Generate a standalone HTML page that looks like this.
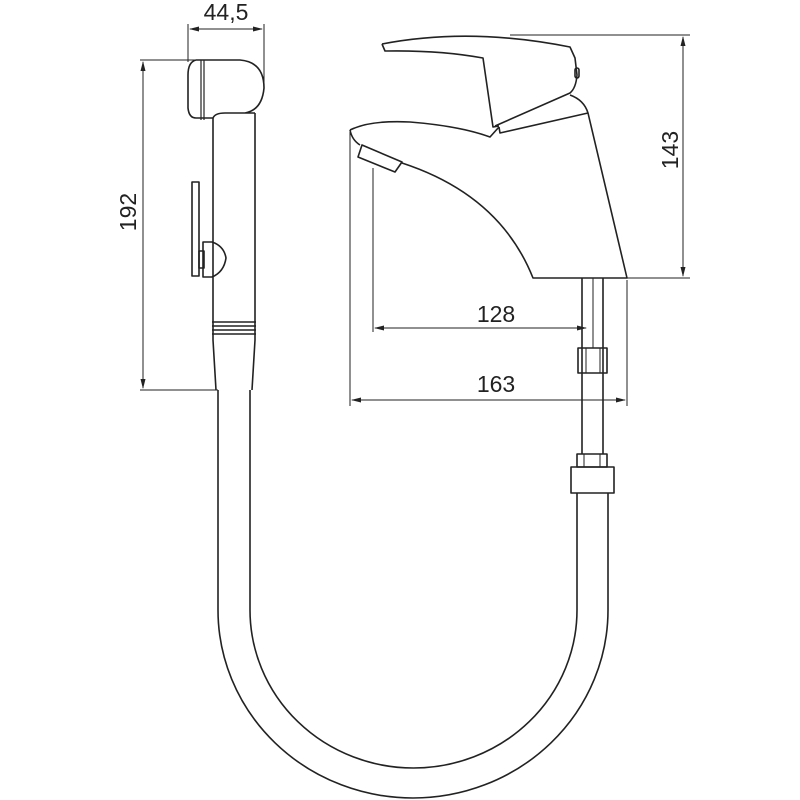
<!DOCTYPE html>
<html><head><meta charset="utf-8"><style>html,body{margin:0;padding:0;background:#fff}svg{display:block}</style></head>
<body>
<svg width="800" height="800" viewBox="0 0 800 800" xmlns="http://www.w3.org/2000/svg">
<defs><marker id="a" markerWidth="10" markerHeight="6" refX="9" refY="3" orient="auto-start-reverse" markerUnits="userSpaceOnUse"><path d="M0,0.5 L10,3 L0,5.5z" fill="#222"/></marker></defs>
<g fill="none" stroke="#222" stroke-width="1.6" stroke-linejoin="round">
<!-- handshower dims -->
<g stroke-width="1">
<line x1="188" y1="24" x2="188" y2="62"/><line x1="264" y1="24" x2="264" y2="84"/>
<line x1="190" y1="29" x2="262" y2="29" marker-start="url(#a)" marker-end="url(#a)"/>
<line x1="140" y1="60" x2="205" y2="60"/><line x1="140" y1="390" x2="218" y2="390"/>
<line x1="143" y1="62" x2="143" y2="388" marker-start="url(#a)" marker-end="url(#a)"/>
</g>
<!-- head -->
<path d="M196,60 L240,60 Q264,62 264,88 Q262,110 245,113 L255,113 M196,60 Q188,62 188,75 L188,108 Q189,118 196,118 L213,118 Q215,113 225,113 L245,113"/>
<line x1="201" y1="60" x2="201" y2="120" stroke-width="1.2"/><line x1="204" y1="60" x2="204" y2="120" stroke-width="1.2"/>
<!-- handle -->
<path d="M213,118 L213,340 L216,390 M255,113 L255,340 L252,390"/>
<line x1="212" y1="322" x2="256" y2="322"/><line x1="212" y1="326" x2="256" y2="326"/>
<line x1="212" y1="330" x2="256" y2="330"/><line x1="212" y1="334" x2="256" y2="334"/>
<!-- trigger -->
<rect x="192" y="182" width="7" height="94"/>
<path d="M203,242 L212,242 Q224,246 226,258 Q224,272 212,277 L203,277 Z"/>
<rect x="199" y="251" width="5" height="17"/>
<!-- hose -->
<path d="M218,390 L218,610 A195,188 0 0 0 608,610 L608,493"/>
<path d="M250,390 L250,610 A163.5,158 0 0 0 577,610 L577,493"/>
<!-- faucet lever -->
<path d="M382,44 Q470,27 570,47 L575,58 L577,75 Q576,88 570,93 L495,126"/>
<path d="M382,44 L385,51 Q440,50 483,58 L493,127 L499,126"/>
<rect x="575" y="68" width="4" height="10" rx="2"/>
<!-- body -->
<path d="M570,95 Q584,100 588,113 L627,278 L533,278 Q500,195 402,163"/>
<path d="M499,127 L500,133 L588,113"/>
<path d="M350,130 Q370,120 410,122 Q460,126 490,137 L499,127"/>
<path d="M350,130 Q352,140 360,145"/>
<path d="M362,145 L358,157 L395,172 L402,162 Z"/>
<!-- pipe -->
<line x1="582" y1="278" x2="582" y2="454"/><line x1="603" y1="278" x2="603" y2="454"/>
<line x1="593" y1="278" x2="593" y2="348" stroke-width="1"/>
<rect x="578" y="348" width="29" height="25"/>
<line x1="586" y1="348" x2="586" y2="373" stroke-width="1"/><line x1="600" y1="348" x2="600" y2="373" stroke-width="1"/>
<rect x="577" y="454" width="30" height="13"/>
<line x1="584" y1="454" x2="584" y2="467" stroke-width="1"/><line x1="600" y1="454" x2="600" y2="467" stroke-width="1"/>
<rect x="571" y="467" width="43" height="26"/>
<!-- faucet dims -->
<g stroke-width="1">
<line x1="510" y1="35" x2="690" y2="35"/><line x1="627" y1="278" x2="690" y2="278"/>
<line x1="683" y1="37" x2="683" y2="276" marker-start="url(#a)" marker-end="url(#a)"/>
<line x1="350" y1="132" x2="350" y2="406"/><line x1="373" y1="168" x2="373" y2="332"/>
<line x1="627" y1="280" x2="627" y2="406"/>
<line x1="375" y1="328" x2="586" y2="328" marker-start="url(#a)" marker-end="url(#a)"/>
<line x1="352" y1="400" x2="625" y2="400" marker-start="url(#a)" marker-end="url(#a)"/>
</g>
</g>
<g font-family="Liberation Sans, sans-serif" font-size="23" fill="#222">
<text x="226" y="20" text-anchor="middle">44,5</text>
<text x="0" y="0" text-anchor="middle" transform="translate(136,212) rotate(-90)">192</text>
<text x="0" y="0" text-anchor="middle" transform="translate(678,150) rotate(-90)">143</text>
<text x="496" y="322" text-anchor="middle">128</text>
<text x="496" y="392" text-anchor="middle">163</text>
</g>
</svg>
</body></html>
